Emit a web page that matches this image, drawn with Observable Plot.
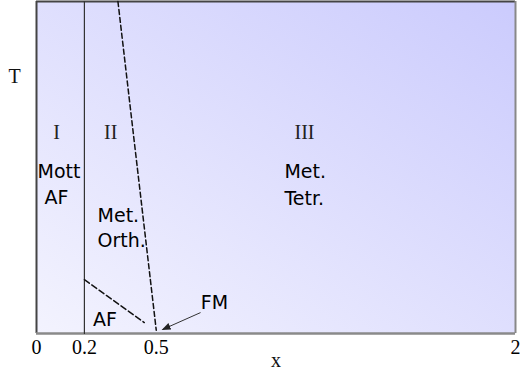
<!DOCTYPE html>
<html>
<head>
<meta charset="utf-8">
<script src="https://cdn.jsdelivr.net/npm/d3@7"></script>
<script src="https://cdn.jsdelivr.net/npm/@observablehq/plot@0.6"></script>
<style>
  html, body { margin: 0; padding: 0; background: #fff; }
  svg { display: block; }
</style>
</head>
<body>
<div id="chart"></div>
<script>
// Tick labels on the composition axis
const xTicks = [0, 0.2, 0.5, 2];

// Phase boundaries (x, T) with T normalised 0..1
const solidBoundary = [{x: 0.2, T: 0}, {x: 0.2, T: 1}];
const steepBoundary = [{x: 0.34, T: 1}, {x: 0.5, T: 0.01}];
const afBoundary = [{x: 0.2, T: 0.162}, {x: 0.45, T: 0.033}];

// Region numerals
const romanLabels = [
  {x: 0.084, T: 0.605, text: "I"},
  {x: 0.31, T: 0.605, text: "II"},
  {x: 1.119, T: 0.605, text: "III"}
];

// Phase names, centred
const centredLabels = [
  {x: 0.094, T: 0.486, text: "Mott"},
  {x: 0.083, T: 0.408, text: "AF"},
  {x: 0.286, T: 0.042, text: "AF"},
  {x: 0.743, T: 0.093, text: "FM"}
];

// Phase names, left aligned
const leftLabels = [
  {x: 0.255, T: 0.354, text: "Met."},
  {x: 0.255, T: 0.279, text: "Orth."},
  {x: 1.035, T: 0.486, text: "Met."},
  {x: 1.035, T: 0.405, text: "Tetr."}
];

// FM pointer arrow
const fmArrow = [{x1: 0.685, T1: 0.063, x2: 0.526, T2: 0.012}];

const sans = "DejaVu Sans, Verdana, sans-serif";
const serif = "Liberation Serif, Times New Roman, serif";

const plot = Plot.plot({
  width: 520,
  height: 377,
  marginLeft: 36,
  marginRight: 5,
  marginTop: 1,
  marginBottom: 44,
  style: {background: "#fff", overflow: "visible"},
  x: {domain: [0, 2]},
  y: {domain: [0, 1], axis: null},
  marks: [
    Plot.frame({fill: "url(#bgGrad)", stroke: "none"}),
    Plot.ruleY([1], {stroke: "#444", strokeWidth: 2}),
    Plot.ruleX([0], {stroke: "#444", strokeWidth: 2}),
    Plot.ruleX([2], {stroke: "#888", strokeWidth: 2}),
    Plot.ruleY([0], {stroke: "#8a8a8a", strokeWidth: 2.5}),
    Plot.line(solidBoundary, {x: "x", y: "T", stroke: "#333", strokeWidth: 1.2}),
    Plot.line(steepBoundary, {x: "x", y: "T", stroke: "#111", strokeWidth: 1.5, strokeDasharray: "5,3"}),
    Plot.line(afBoundary, {x: "x", y: "T", stroke: "#111", strokeWidth: 1.5, strokeDasharray: "6,3"}),
    Plot.link(fmArrow, {x1: "x1", y1: "T1", x2: "x2", y2: "T2", stroke: "#333", strokeWidth: 1}),
    Plot.text(romanLabels, {x: "x", y: "T", text: "text", fontFamily: serif, fontSize: 20, fill: "#222"}),
    Plot.text(centredLabels, {x: "x", y: "T", text: "text", fontFamily: sans, fontSize: 19, fill: "#000"}),
    Plot.text(leftLabels, {x: "x", y: "T", text: "text", fontFamily: sans, fontSize: 19, fill: "#000", textAnchor: "start"}),
    Plot.axisX({ticks: xTicks, tickFormat: d => String(d), tickSize: 0, tickPadding: 6,
      fontSize: 20, fontFamily: serif, label: null, stroke: "none"}),
    Plot.text(["x"], {frameAnchor: "bottom", dy: 33, fontFamily: serif, fontSize: 20, fill: "#111"}),
    Plot.text(["T"], {x: 0, y: 0.775, dx: -22, fontFamily: serif, fontSize: 20, fill: "#111"})
  ]
});

const svg = d3.select(plot);
const defs = svg.insert("defs", ":first-child");
const grad = defs.append("linearGradient")
  .attr("id", "bgGrad")
  .attr("x1", "0").attr("y1", "1").attr("x2", "1").attr("y2", "0");
grad.append("stop").attr("offset", "0%").attr("stop-color", "#f3f3fe");
grad.append("stop").attr("offset", "100%").attr("stop-color", "#cbcbfd");
defs.append("marker")
  .attr("id", "arrowHead")
  .attr("viewBox", "0 0 10 10")
  .attr("refX", 9).attr("refY", 5)
  .attr("markerWidth", 9).attr("markerHeight", 9)
  .attr("markerUnits", "userSpaceOnUse")
  .attr("orient", "auto")
  .append("path").attr("d", "M0,1 L10,5 L0,9 Z").attr("fill", "#222");
svg.selectAll('g[aria-label="link"] path').attr("marker-end", "url(#arrowHead)");

document.getElementById("chart").appendChild(plot);
</script>
</body>
</html>
